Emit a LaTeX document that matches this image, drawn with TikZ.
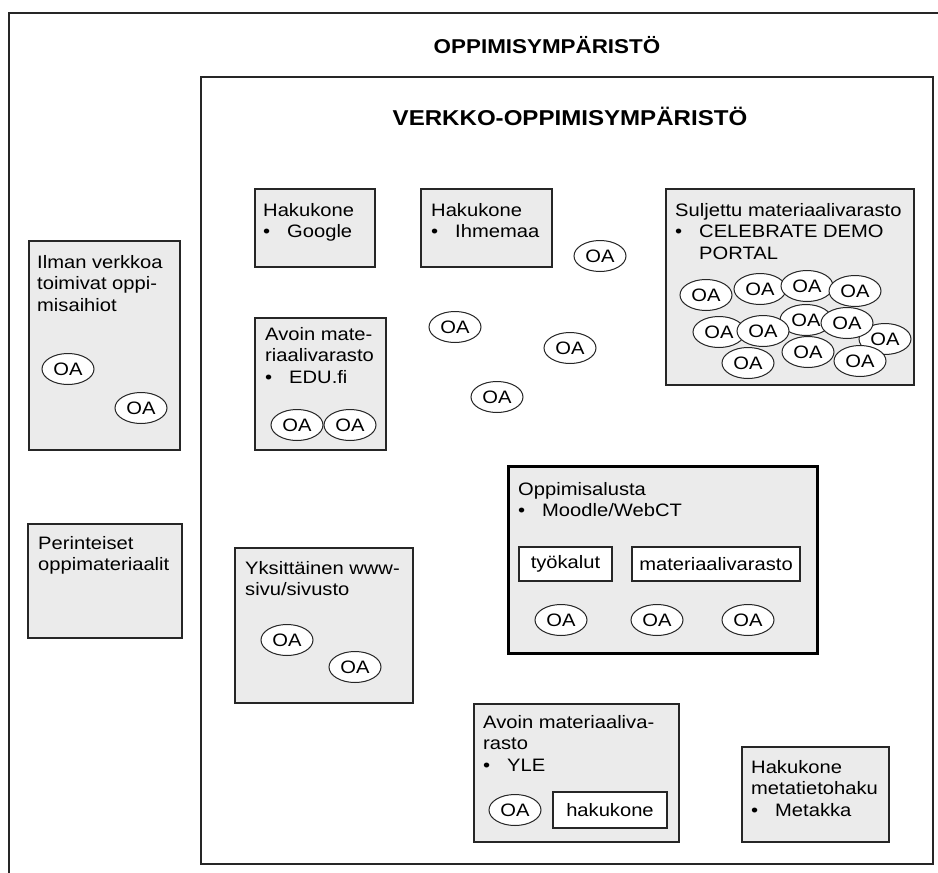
\documentclass[tikz,border=0pt]{standalone}
\usepackage{fontspec}
\setmainfont{Liberation Sans}[FakeStretch=1.12]
\usetikzlibrary{shapes.geometric}
\definecolor{boxgray}{gray}{0.92}
\newcommand\bul{\makebox[24pt][l]{\textbullet}}
\begin{document}
\begin{tikzpicture}[x=1pt,y=-1pt,
  grbox/.style={draw=black!85, line width=1.6pt, fill=boxgray, anchor=north west, inner sep=0pt},
  whbox/.style={draw=black!85, line width=1.3pt, fill=white, inner sep=0pt, font=\fontsize{18}{22}\selectfont},
  lbl/.style={anchor=north west, inner sep=0pt, align=left, font=\fontsize{18}{21.7}\selectfont},
  oa/.style={ellipse, draw=black!85, line width=1pt, fill=white, minimum width=52pt,
             minimum height=31pt, inner sep=0pt, font=\fontsize{18}{22}\selectfont},
  ttl/.style={inner sep=0pt, font=\fontsize{21.5}{24}\selectfont\bfseries}]
  \useasboundingbox (0,0) rectangle (938,873);
  % --- the outer frame, cut off by the page at right and bottom
  \draw[line width=1.8pt, black!85] (9,873) -- (9,13) -- (938,13);
  \node[ttl, font=\fontsize{20}{24}\selectfont\bfseries] (tout) at (547,45) {OPPIMISYMPÄRISTÖ};
  % --- the net-based environment
  \node[draw=black!85, line width=1.7pt, anchor=north west, minimum width=732pt,
        minimum height=787pt, inner sep=0pt] (verkko) at (200,76) {};
  \node[ttl] (tin) at (570,116) {VERKKO-OPPIMISYMPÄRISTÖ};
  % --- outside the net
  \node[grbox, minimum width=151pt, minimum height=209pt] (ilman) at (28,240) {};
  \node[lbl] (ilmant) at ([xshift=9pt,yshift=-15pt]ilman.north west) {Ilman verkkoa\\toimivat oppi-\\misaihiot};
  \node[oa] (ilmoa1) at (68,369) {OA};
  \node[oa] (ilmoa2) at (141,408) {OA};
  \node[grbox, minimum width=154pt, minimum height=114pt] (perint) at (27,523) {};
  \node[lbl] (perintt) at ([xshift=11pt,yshift=-13pt]perint.north west) {Perinteiset\\oppimateriaalit};
  % --- search engines and repositories
  \node[grbox, minimum width=120pt, minimum height=78pt] (google) at (254,188) {};
  \node[lbl] (googlet) at ([xshift=9pt,yshift=-15pt]google.north west) {Hakukone\\\bul Google};
  \node[grbox, minimum width=131pt, minimum height=78pt] (ihme) at (420,188) {};
  \node[lbl] (ihmet) at ([xshift=11pt,yshift=-15pt]ihme.north west) {Hakukone\\\bul Ihmemaa};
  \node[grbox, minimum width=131pt, minimum height=132pt] (edu) at (254,317) {};
  \node[lbl] (edut) at ([xshift=11pt,yshift=-10pt]edu.north west) {Avoin mate-\\riaalivarasto\\\bul EDU.fi};
  \node[oa] (eduoa1) at (297,425) {OA};
  \node[oa] (eduoa2) at (350,425) {OA};
  \node[grbox, minimum width=248pt, minimum height=196pt] (sulj) at (665,188) {};
  \node[lbl] (sult) at ([xshift=10pt,yshift=-15pt]sulj.north west) {Suljettu materiaalivarasto\\\bul CELEBRATE DEMO\\\hspace*{24pt}PORTAL};
  \foreach \p [count=\i] in {(706,295),(760,289),(807,286),(855,291),(885,339),(806,320),
                             (719,332),(763,331),(847,323),(748,363),(808,352),(860,361)}{
    \node[oa] (suloa\i) at \p {OA};}
  % --- free objects in the net
  \foreach \p [count=\i] in {(600,256),(455,327),(570,348),(497,397)}{
    \node[oa] (vapaa\i) at \p {OA};}
  % --- learning platform
  \node[grbox, draw=black, line width=3.4pt, minimum width=309pt, minimum height=187pt] (alusta) at (507,465) {};
  \node[lbl] (alustat) at ([xshift=11pt,yshift=-17pt]alusta.north west) {Oppimisalusta\\\bul Moodle/WebCT};
  \node[whbox, minimum width=93pt, minimum height=34pt] (tyok) at (565.5,564) {työkalut};
  \node[whbox, minimum width=168pt, minimum height=34pt] (matvar) at (716,564) {materiaalivarasto};
  \foreach \x [count=\i] in {561,657,748}{
    \node[oa] (aloa\i) at (\x,620) {OA};}
  % --- single web pages
  \node[grbox, minimum width=178pt, minimum height=155pt] (yksi) at (234,547) {};
  \node[lbl] (yksit) at ([xshift=11pt,yshift=-14pt]yksi.north west) {Yksittäinen www-\\sivu/sivusto};
  \node[oa] (yksoa1) at (287,640) {OA};
  \node[oa] (yksoa2) at (355,667) {OA};
  \node[grbox, minimum width=205pt, minimum height=138pt] (yle) at (473,703) {};
  \node[lbl] (ylet) at ([xshift=10pt,yshift=-12pt]yle.north west) {Avoin materiaaliva-\\rasto\\\bul YLE};
  \node[oa] (yleoa) at (515,810) {OA};
  \node[whbox, minimum width=114pt, minimum height=36pt] (ylehaku) at (610,810) {hakukone};
  \node[grbox, minimum width=147pt, minimum height=95pt] (meta) at (741,746) {};
  \node[lbl] (metat) at ([xshift=10pt,yshift=-14pt]meta.north west) {Hakukone\\metatietohaku\\\bul Metakka};
\end{tikzpicture}
\end{document}
